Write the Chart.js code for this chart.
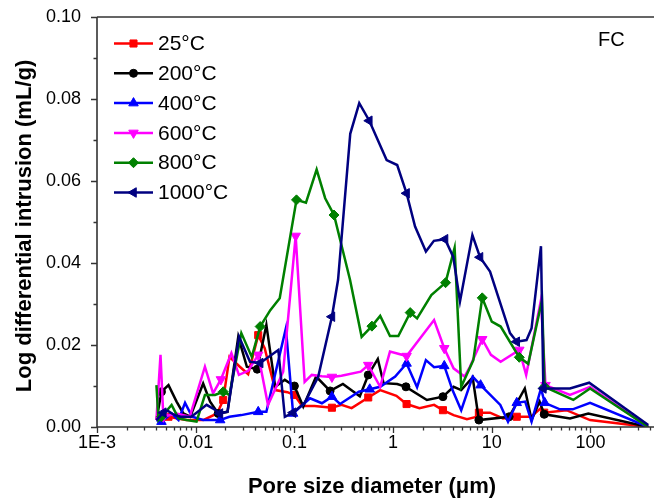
<!DOCTYPE html>
<html>
<head>
<meta charset="utf-8">
<script src="https://cdn.jsdelivr.net/npm/chart.js@4.4.1/dist/chart.umd.min.js"></script>
<style>
  html, body { margin: 0; padding: 0; background: #fff; }
  #wrap { width: 654px; height: 504px; }
</style>
</head>
<body>
<div id="wrap"><canvas id="mip" width="654" height="504"></canvas></div>
<script>
// pore diameter (um) and log differential intrusion (mL/g)
const d25 = [0.004, 0.0053, 0.008, 0.0119, 0.0165, 0.019, 0.022, 0.028, 0.034, 0.043, 0.05, 0.064, 0.085, 0.1, 0.12, 0.16, 0.24, 0.3, 0.38, 0.56, 0.74, 1.08, 1.37, 1.85, 2.6, 3.2, 4.1, 5.6, 6.8, 7.4, 9.6, 13, 17.9, 25, 31.5, 34, 57, 99, 385];
const v25 = [0.0017, 0.0025, 0.0017, 0.0017, 0.0033, 0.0066, 0.0171, 0.0147, 0.0129, 0.0224, 0.0192, 0.009, 0.0085, 0.0078, 0.0051, 0.0051, 0.0047, 0.0054, 0.0046, 0.0072, 0.009, 0.0076, 0.0056, 0.0046, 0.0054, 0.0041, 0.0029, 0.0019, 0.0024, 0.0035, 0.0035, 0.0021, 0.0025, 0.0025, 0.0046, 0.0035, 0.0041, 0.0017, 0];

const d200 = [0.004, 0.0045, 0.0053, 0.0064, 0.0075, 0.0088, 0.0119, 0.014, 0.0169, 0.021, 0.027, 0.033, 0.042, 0.052, 0.064, 0.08, 0.1, 0.123, 0.166, 0.23, 0.31, 0.46, 0.56, 0.70, 0.80, 1.1, 1.35, 2.2, 3.2, 4.1, 4.9, 6.4, 7.4, 15, 21.6, 25.3, 30.5, 34, 62, 95, 385];
const v200 = [0.0017, 0.0086, 0.0102, 0.0062, 0.0033, 0.0025, 0.0106, 0.0062, 0.0033, 0.0037, 0.022, 0.0147, 0.0141, 0.0249, 0.0098, 0.0115, 0.01, 0.005, 0.0123, 0.0088, 0.0105, 0.0075, 0.0127, 0.0166, 0.0107, 0.0105, 0.0098, 0.0066, 0.0074, 0.0098, 0.009, 0.0121, 0.0017, 0.0025, 0.0094, 0.0017, 0.0062, 0.0031, 0.0021, 0.0033, 0];

const d400 = [0.004, 0.0045, 0.0057, 0.0067, 0.0078, 0.0092, 0.0119, 0.0177, 0.022, 0.029, 0.043, 0.052, 0.082, 0.097, 0.144, 0.19, 0.24, 0.29, 0.45, 0.58, 0.74, 1.05, 1.37, 1.75, 2.15, 2.6, 3.3, 4.0, 4.9, 6.4, 7.7, 12.2, 14.6, 17.9, 21.8, 25.3, 31.5, 34.4, 49, 66, 99, 385];
const v400 = [0.0017, 0.0013, 0.0033, 0.0017, 0.0059, 0.0025, 0.0017, 0.0017, 0.0025, 0.0029, 0.0037, 0.0037, 0.0241, 0.0033, 0.007, 0.0058, 0.0074, 0.0056, 0.0086, 0.0092, 0.0098, 0.0123, 0.0155, 0.0097, 0.0163, 0.0146, 0.0149, 0.009, 0.0041, 0.0123, 0.0102, 0.0054, 0.0013, 0.0059, 0.0062, 0.0013, 0.0094, 0.0059, 0.0043, 0.0043, 0.0059, 0];

const d600 = [0.004, 0.0044, 0.0047, 0.0064, 0.0087, 0.0124, 0.015, 0.018, 0.023, 0.0274, 0.034, 0.043, 0.054, 0.077, 0.103, 0.127, 0.15, 0.19, 0.24, 0.3, 0.47, 0.56, 0.74, 0.93, 1.37, 2.6, 3.3, 4.1, 5.3, 6.0, 8.0, 9.8, 12.3, 19, 22.3, 31.5, 35, 62, 99, 385];
const v600 = [0.0017, 0.0176, 0.0025, 0.0033, 0.0025, 0.0147, 0.0082, 0.0116, 0.018, 0.0127, 0.0137, 0.0176, 0.0054, 0.0135, 0.0466, 0.011, 0.0127, 0.0124, 0.0122, 0.0125, 0.0135, 0.0151, 0.0098, 0.0184, 0.0173, 0.0261, 0.0192, 0.0143, 0.0123, 0.0147, 0.0214, 0.0176, 0.0159, 0.0188, 0.0127, 0.031, 0.0102, 0.0078, 0.0098, 0];

const d800 = [0.004, 0.0042, 0.0045, 0.0057, 0.0067, 0.0081, 0.0102, 0.0124, 0.0157, 0.019, 0.022, 0.029, 0.037, 0.045, 0.057, 0.071, 0.105, 0.131, 0.168, 0.205, 0.252, 0.366, 0.48, 0.61, 0.74, 0.93, 1.13, 1.49, 1.75, 2.44, 3.4, 4.2, 4.9, 6.5, 8.0, 10, 12.3, 19, 23.4, 32.3, 34.3, 67, 99, 385];
const v800 = [0.0102, 0.0017, 0.0025, 0.0054, 0.0021, 0.0017, 0.0013, 0.0078, 0.0078, 0.0086, 0.0078, 0.0229, 0.0171, 0.0245, 0.0285, 0.0314, 0.0554, 0.0547, 0.0628, 0.0558, 0.0517, 0.0359, 0.022, 0.0246, 0.0271, 0.0222, 0.0222, 0.0279, 0.0265, 0.0322, 0.0352, 0.0437, 0.0098, 0.0163, 0.0315, 0.0257, 0.0245, 0.017, 0.0154, 0.031, 0.0098, 0.0066, 0.0094, 0];

const d1000 = [0.004, 0.0047, 0.0052, 0.006, 0.007, 0.009, 0.0102, 0.0129, 0.015, 0.0176, 0.021, 0.0275, 0.0355, 0.045, 0.0687, 0.080, 0.097, 0.127, 0.174, 0.24, 0.277, 0.368, 0.454, 0.574, 0.86, 1.10, 1.37, 1.67, 2.15, 2.59, 3.36, 4.07, 4.76, 6.36, 7.6, 9.6, 15.3, 17.9, 22.5, 25.3, 31.5, 33.3, 62, 97, 385];
const v1000 = [0.0017, 0.0035, 0.004, 0.003, 0.0025, 0.0025, 0.0035, 0.0054, 0.0045, 0.0033, 0.0037, 0.022, 0.0159, 0.0156, 0.0188, 0.0025, 0.0035, 0.0059, 0.0122, 0.0269, 0.0359, 0.0715, 0.079, 0.0747, 0.0651, 0.0639, 0.057, 0.0489, 0.0428, 0.0454, 0.0458, 0.0415, 0.0306, 0.0468, 0.0414, 0.0379, 0.0229, 0.0208, 0.0212, 0.0241, 0.0441, 0.0094, 0.0094, 0.0108, 0.0005];

const seriesNames = ['25°C', '200°C', '400°C', '600°C', '800°C', '1000°C'];
const diameters = [d25, d200, d400, d600, d800, d1000];
const intrusion = [v25, v200, v400, v600, v800, v1000];
const yTicks = [0, 0.02, 0.04, 0.06, 0.08, 0.10];

// symbols are drawn only every few pressure steps, roughly at these diameters
const symbolAt = [0.0047, 0.018, 0.043, 0.1, 0.24, 0.57, 1.37, 3.3, 7.6, 18, 34];

const looks = [
  { color: '#ff0000', style: 'rect', rot: 0, r: 5 },
  { color: '#000000', style: 'circle', rot: 0, r: 4 },
  { color: '#0000ff', style: 'triangle', rot: 0, r: 5.5 },
  { color: '#ff00ff', style: 'triangle', rot: 180, r: 5.5 },
  { color: '#008000', style: 'rectRot', rot: 0, r: 5 },
  { color: '#000080', style: 'triangle', rot: -90, r: 5.5 }
];

function symbolIndexes(xs) {
  const s = new Set();
  symbolAt.forEach(m => {
    let best = -1, bd = 1e9;
    xs.forEach((x, i) => {
      const dd = Math.abs(Math.log10(x) - Math.log10(m));
      if (dd < bd) { bd = dd; best = i; }
    });
    if (bd < 0.12) s.add(best);
  });
  return s;
}

const datasets = seriesNames.map((name, k) => {
  const marks = symbolIndexes(diameters[k]);
  const lk = looks[k];
  return {
    label: name,
    data: diameters[k].map((x, i) => ({ x: x, y: intrusion[k][i] })),
    borderColor: lk.color,
    backgroundColor: lk.color,
    borderWidth: 2.5,
    tension: 0,
    pointStyle: lk.style,
    pointRotation: lk.rot,
    pointBorderWidth: 1,
    pointRadius: ctx => marks.has(ctx.dataIndex) ? lk.r : 0,
    order: seriesNames.length - k
  };
});

const axisFont = { family: 'Arial, "Liberation Sans", sans-serif', size: 18 };

function decadeLabel(v) {
  const l = Math.log10(v);
  if (Math.abs(l - Math.round(l)) > 1e-6) return '';
  const e = Math.round(l);
  if (e === -3) return '1E-3';
  return String(Number(Math.pow(10, e).toPrecision(1)));
}

// axes frame, tick marks, legend and panel text
const decor = {
  id: 'decor',
  afterDraw(chart) {
    const { ctx, chartArea: a, scales } = chart;
    const x = scales.x, y = scales.y;
    ctx.save();
    ctx.strokeStyle = '#333';
    ctx.lineWidth = 1.6;
    ctx.beginPath();
    ctx.moveTo(a.left, a.top); ctx.lineTo(a.right, a.top);
    ctx.moveTo(a.left, a.top); ctx.lineTo(a.left, a.bottom); ctx.lineTo(a.right, a.bottom);
    ctx.stroke();

    ctx.lineWidth = 1.3;
    ctx.beginPath();
    for (let e = -3; e <= 2; e++) {
      for (let m = 1; m <= 9; m++) {
        const v = m * Math.pow(10, e);
        if (v > x.max) break;
        const px = Math.round(x.getPixelForValue(v)) + 0.5;
        const len = m === 1 ? 6 : 3.5;
        ctx.moveTo(px, a.bottom); ctx.lineTo(px, a.bottom + len);
      }
    }
    for (let k = 0; k <= 10; k++) {
      const py = Math.round(y.getPixelForValue(k / 100)) + 0.5;
      const len = k % 2 === 0 ? 6 : 3.5;
      ctx.moveTo(a.left - len, py); ctx.lineTo(a.left, py);
    }
    ctx.stroke();

    // axis titles
    ctx.fillStyle = '#000';
    ctx.font = 'bold 22px Arial, "Liberation Sans", sans-serif';
    ctx.textAlign = 'center';
    ctx.textBaseline = 'middle';
    ctx.fillText('Pore size diameter (\u03bcm)', 372, 487);
    ctx.save();
    ctx.translate(25, 226);
    ctx.rotate(-Math.PI / 2);
    ctx.fillText('Log differential intrusion (mL/g)', 0, 0);
    ctx.restore();

    // legend
    ctx.font = '21px Arial, "Liberation Sans", sans-serif';
    ctx.textAlign = 'left';
    chart.data.datasets.forEach((ds, i) => {
      const lk = looks[i];
      const ly = 43.5 + i * 29.8;
      ctx.strokeStyle = lk.color;
      ctx.fillStyle = lk.color;
      ctx.lineWidth = 2.5;
      ctx.beginPath();
      ctx.moveTo(114, ly); ctx.lineTo(153, ly);
      ctx.stroke();
      ctx.lineWidth = 1;
      Chart.helpers.drawPoint(ctx, { pointStyle: lk.style, rotation: lk.rot, radius: lk.r, borderWidth: 1 }, 133.5, ly);
      ctx.fillStyle = '#000';
      ctx.fillText(ds.label, 158, ly + 1);
    });

    ctx.font = '20px Arial, "Liberation Sans", sans-serif';
    ctx.fillText('FC', 598, 40);
    ctx.restore();
  }
};

new Chart(document.getElementById('mip'), {
  type: 'line',
  data: { datasets: datasets },
  options: {
    responsive: false,
    animation: false,
    devicePixelRatio: 1,
    layout: { padding: { top: 17, right: 0, left: 0, bottom: 0 } },
    plugins: { legend: { display: false }, tooltip: { enabled: false } },
    scales: {
      x: {
        type: 'logarithmic',
        min: 0.001,
        max: 440,
        grid: { display: false, drawTicks: false },
        border: { display: false },
        ticks: {
          autoSkip: false,
          maxRotation: 0,
          padding: 5,
          color: '#000',
          font: axisFont,
          callback: v => decadeLabel(v)
        },
        afterFit: s => { s.height = 77; s.paddingLeft = 0; s.paddingRight = 0; }
      },
      y: {
        min: 0,
        max: 0.1,
        grid: { display: false, drawTicks: false },
        border: { display: false },
        afterBuildTicks: s => { s.ticks = yTicks.map(v => ({ value: v })); },
        ticks: {
          padding: 16,
          color: '#000',
          font: axisFont,
          callback: v => v.toFixed(2)
        },
        afterFit: s => { s.width = 97; s.paddingTop = 0; s.paddingBottom = 0; }
      }
    }
  },
  plugins: [decor]
});
</script>
</body>
</html>
